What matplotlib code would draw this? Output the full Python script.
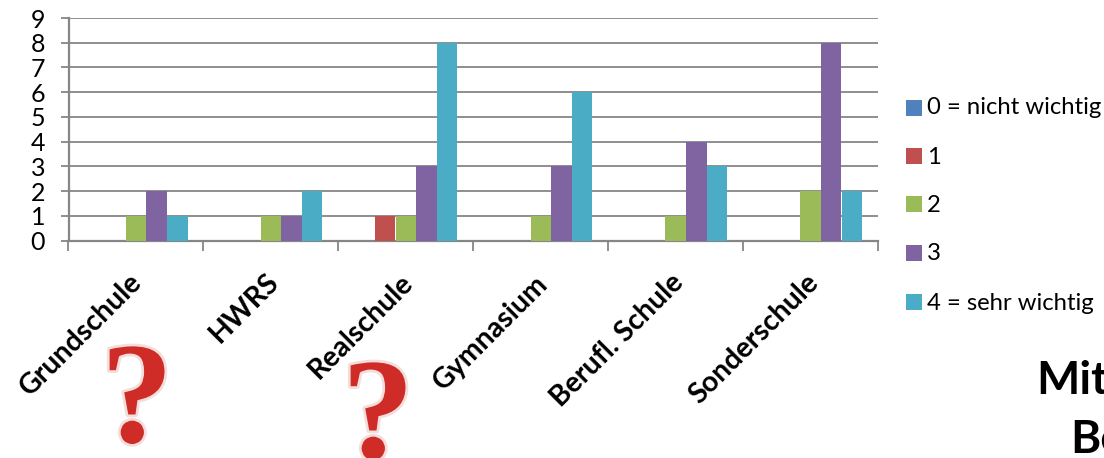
import matplotlib
matplotlib.use("Agg")
import matplotlib.pyplot as plt
import matplotlib.patheffects as pe
import numpy as np

schools = ["Grundschule", "HWRS", "Realschule", "Gymnasium", "Berufl. Schule", "Sonderschule"]
rating_0 = [0, 0, 0, 0, 0, 0]
rating_1 = [0, 0, 1, 0, 0, 0]
rating_2 = [1, 1, 1, 1, 1, 2]
rating_3 = [2, 1, 3, 3, 4, 8]
rating_4 = [1, 2, 8, 6, 3, 2]
series_labels = ["0 = nicht wichtig", "1", "2", "3", "4 = sehr wichtig"]
series_colors = ["#4F81BD", "#C0504D", "#9BBB59", "#8064A2", "#4BACC6"]
y_ticks = list(range(10))

W, H = 1104, 458
plt.rcParams["font.family"] = ["Lato", "DejaVu Sans"]
fig = plt.figure(figsize=(W / 100, H / 100), dpi=100, facecolor="white")


def px(x, y):
    """Figure fraction for a pixel position measured from the top left."""
    return x / W, 1 - y / H


left, right, top, bottom = 68.5, 878, 18, 240.5
ax = fig.add_axes([left / W, 1 - bottom / H, (right - left) / W, (bottom - top) / H])
grey = "#868686"

x = np.arange(len(schools))
bar_w = 0.1535
all_series = [rating_0, rating_1, rating_2, rating_3, rating_4]
for i, (vals, col) in enumerate(zip(all_series, series_colors)):
    ax.bar(x + (i - 2) * bar_w, vals, bar_w * 0.985, color=col, zorder=3)

ax.set_xlim(-0.5, len(schools) - 0.5)
ax.set_ylim(0, 9)
ax.set_yticks(y_ticks)
ax.set_yticklabels([str(t) for t in y_ticks], fontsize=18, color="black")
ax.tick_params(axis="y", length=5.8, width=1.3, color=grey, pad=11)
ax.set_xticks(np.arange(len(schools) + 1) - 0.5)
ax.set_xticklabels([])
ax.tick_params(axis="x", length=7, width=1.3, color=grey)
ax.grid(axis="y", color=grey, lw=1.3, zorder=1)
ax.set_axisbelow(True)
for s in ["top", "right"]:
    ax.spines[s].set_visible(False)
for s in ["left", "bottom"]:
    ax.spines[s].set_color(grey)
    ax.spines[s].set_linewidth(1.6)

# Slanted category names, anchored at their upper right end
label_ends = [(129, 269), (266, 269), (400, 269), (535, 271), (670, 269), (805, 269)]
for name, (ex, ey) in zip(schools, label_ends):
    fx, fy = px(ex, ey)
    fig.text(fx, fy, name, rotation=45, rotation_mode="anchor", ha="right", va="top",
             fontsize=20.5, fontweight="bold", color="black")

# Legend entries
legend_y = [108, 157, 205, 253, 303]
for label, col, ly, box_y in zip(series_labels, series_colors, legend_y, [116, 164, 212, 261, 310]):
    fx, fy = px(906, box_y)
    fig.patches.append(plt.Rectangle((fx, fy), 16 / W, 16 / H, transform=fig.transFigure,
                                     facecolor=col, edgecolor="none"))
    tx, ty = px(927, ly)
    fig.text(tx, ty, label, fontsize=17.2, va="center", ha="left", color="black")

# Heading running off the right edge
for txt, hx, hy in [("Mit", 1036, 381), ("Be", 1070, 440)]:
    fx, fy = px(hx, hy)
    fig.text(fx, fy, txt, fontsize=33, fontweight="bold", va="center", ha="left", color="black")

# Red question marks
for qx, qy in [(137, 442), (378, 458)]:
    fx, fy = px(qx, qy)
    fig.text(fx, fy, "?", fontsize=104, fontweight="bold", ha="center", va="baseline",
             family="Liberation Serif", color="#CF2C27",
             path_effects=[pe.withStroke(linewidth=4, foreground="#F3DEDC")])

fig.savefig("out.png", dpi=100, facecolor="white")
